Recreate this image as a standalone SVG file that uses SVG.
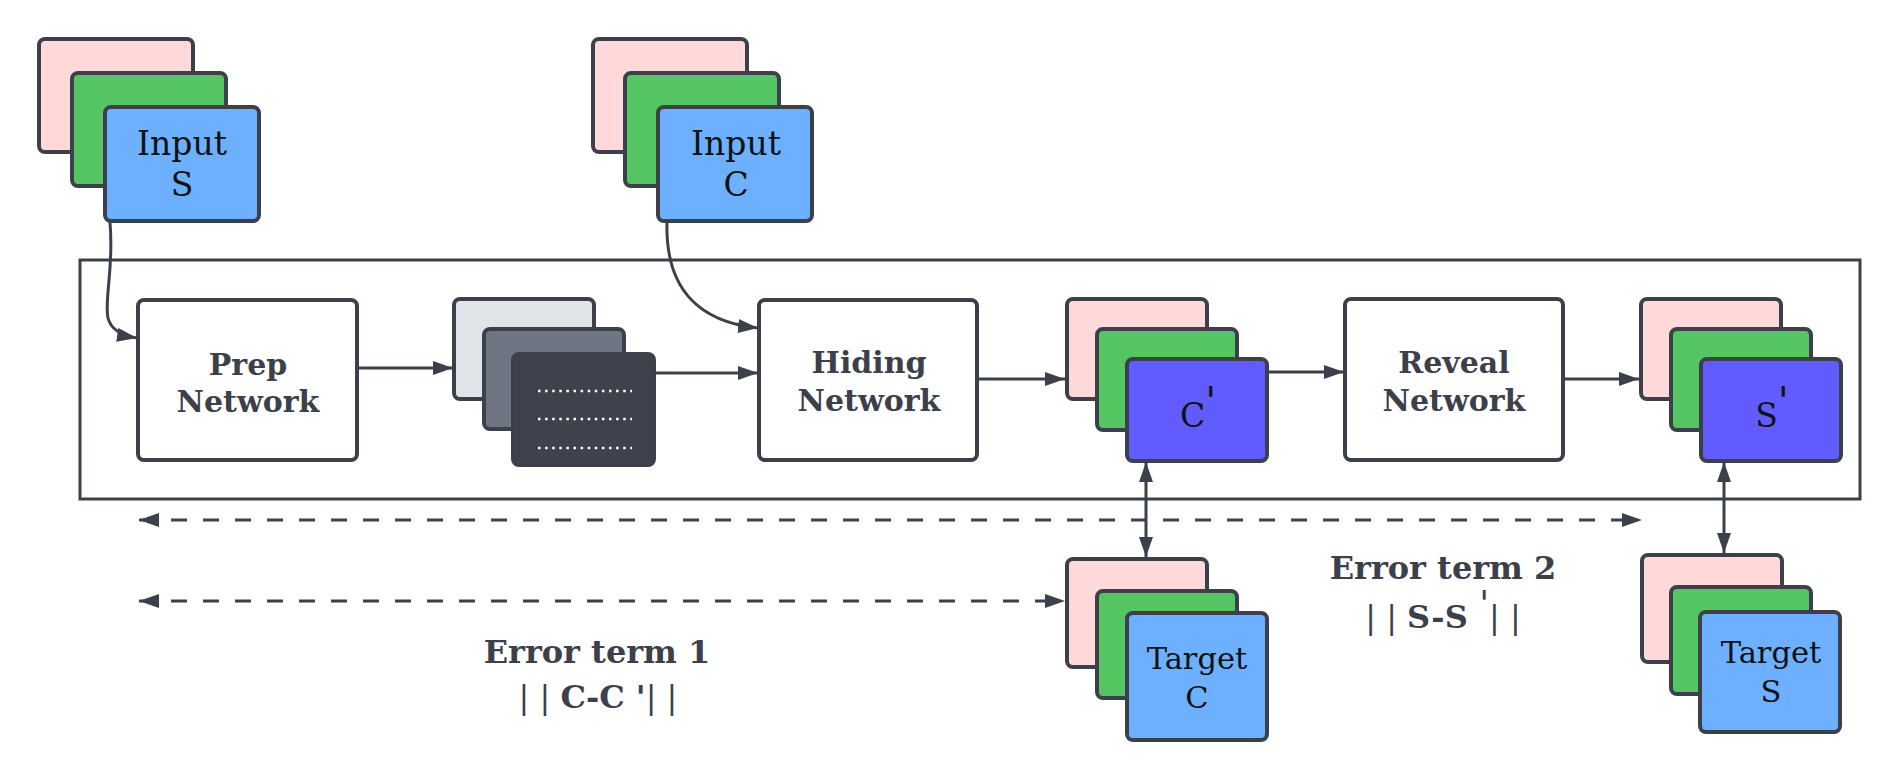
<svg xmlns="http://www.w3.org/2000/svg" width="1900" height="780" viewBox="0 0 1900 780">
<style>
.pk{fill:#ffd8da;stroke:#3b404b;stroke-width:4}
.gr{fill:#55c462;stroke:#3b404b;stroke-width:4}
.bl{fill:#6cb0ff;stroke:#3b404b;stroke-width:4}
.pu{fill:#605cff;stroke:#3b404b;stroke-width:4}
.g1{fill:#e0e3e8;stroke:#3b404b;stroke-width:4}
.g2{fill:#6f7582;stroke:#3b404b;stroke-width:4}
.g3{fill:#3d424d;stroke:#3b404b;stroke-width:4}
.net{fill:#ffffff;stroke:#3b404b;stroke-width:4}
.lbl{font-family:"DejaVu Serif",serif;font-size:33px;fill:#111111;text-anchor:middle}
.tlbl{font-family:"DejaVu Serif",serif;font-size:30.5px;fill:#111111;text-anchor:middle}
.nlbl{font-family:"DejaVu Serif",serif;font-size:30px;font-weight:bold;fill:#3b404b;text-anchor:middle}
.elbl{font-family:"DejaVu Serif",serif;font-size:32px;font-weight:bold;fill:#3b404b;text-anchor:middle}
.bar{font-weight:normal}
.con{fill:none;stroke:#3b404b;stroke-width:3}
.dash{stroke-dasharray:16 16}
.dots{stroke:#ffffff;stroke-width:2.5;stroke-dasharray:2.5 4.6;fill:none}
</style>
<defs>
<marker id="ah" viewBox="0 0 20 14" refX="20" refY="7" markerWidth="20" markerHeight="14" markerUnits="userSpaceOnUse" orient="auto-start-reverse">
<path d="M0,0 L20,7 L0,14 z" fill="#3b404b"/>
</marker>
</defs>

<rect id="container" x="80" y="260" width="1780" height="239" fill="none" stroke="#3b404b" stroke-width="3"/>

<g id="input-s">
<rect class="pk" x="39" y="39" width="154" height="113" rx="6"/>
<rect class="gr" x="72" y="73" width="154" height="113" rx="6"/>
<rect class="bl" x="105" y="107" width="154" height="114" rx="6"/>
<text class="lbl" x="182" y="155">Input</text>
<text class="lbl" x="182" y="196">S</text>
</g>

<g id="input-c">
<rect class="pk" x="593" y="39" width="154" height="113" rx="6"/>
<rect class="gr" x="625" y="73" width="154" height="113" rx="6"/>
<rect class="bl" x="658" y="107" width="154" height="114" rx="6"/>
<text class="lbl" x="736" y="155">Input</text>
<text class="lbl" x="736" y="196">C</text>
</g>

<g id="prep-network">
<rect class="net" x="138" y="300" width="219" height="160" rx="6"/>
<text class="nlbl" x="248" y="375">Prep</text>
<text class="nlbl" x="248" y="412">Network</text>
</g>

<g id="prep-output">
<rect class="g1" x="454" y="299" width="140" height="100" rx="6"/>
<rect class="g2" x="484" y="329" width="140" height="100" rx="6"/>
<rect class="g3" x="513" y="354" width="141" height="111" rx="6"/>
<line class="dots" x1="538" y1="391" x2="632" y2="391"/>
<line class="dots" x1="538" y1="419" x2="632" y2="419"/>
<line class="dots" x1="538" y1="448" x2="632" y2="448"/>
</g>

<g id="hiding-network">
<rect class="net" x="759" y="300" width="218" height="160" rx="6"/>
<text class="nlbl" x="869" y="373">Hiding</text>
<text class="nlbl" x="869" y="411">Network</text>
</g>

<g id="container-c">
<rect class="pk" x="1067" y="299" width="140" height="100" rx="6"/>
<rect class="gr" x="1097" y="329" width="140" height="101" rx="6"/>
<rect class="pu" x="1127" y="359" width="140" height="102" rx="6"/>
<text class="lbl" x="1198" y="427">C<tspan font-size="40" dy="-12">'</tspan></text>
</g>

<g id="reveal-network">
<rect class="net" x="1345" y="299" width="218" height="161" rx="6"/>
<text class="nlbl" x="1454" y="373">Reveal</text>
<text class="nlbl" x="1454" y="411">Network</text>
</g>

<g id="revealed-s">
<rect class="pk" x="1641" y="299" width="140" height="100" rx="6"/>
<rect class="gr" x="1671" y="329" width="140" height="101" rx="6"/>
<rect class="pu" x="1701" y="359" width="140" height="102" rx="6"/>
<text class="lbl" x="1772" y="427">S<tspan font-size="40" dy="-12">'</tspan></text>
</g>

<g id="target-c">
<rect class="pk" x="1067" y="559" width="140" height="108" rx="6"/>
<rect class="gr" x="1097" y="591" width="140" height="107" rx="6"/>
<rect class="bl" x="1127" y="613" width="140" height="127" rx="6"/>
<text class="tlbl" x="1197" y="669">Target</text>
<text class="tlbl" x="1197" y="708">C</text>
</g>

<g id="target-s">
<rect class="pk" x="1642" y="555" width="140" height="107" rx="6"/>
<rect class="gr" x="1671" y="587" width="140" height="107" rx="6"/>
<rect class="bl" x="1700" y="612" width="140" height="120" rx="6"/>
<text class="tlbl" x="1771" y="663">Target</text>
<text class="tlbl" x="1771" y="702">S</text>
</g>

<g id="error-term-1">
<text class="elbl" x="597" y="663">Error term 1</text>
<text class="elbl" x="598" y="708"><tspan class="bar">| | </tspan>C-C '<tspan class="bar">| |</tspan></text>
</g>

<g id="error-term-2">
<text class="elbl" x="1443" y="579">Error term 2</text>
<text class="elbl" x="1443" y="628"><tspan class="bar">| | </tspan>S-S<tspan class="bar" font-size="36" dy="-12"> '</tspan><tspan dy="12" class="bar">| |</tspan></text>
</g>

<g id="connectors">
<path class="con" d="M110,222 C114,270 104,300 108,318 Q112,334 137,338" marker-end="url(#ah)"/>
<path class="con" d="M667,222 C665,290 700,322 758,328" marker-end="url(#ah)"/>
<line class="con" x1="357" y1="368" x2="453" y2="368" marker-end="url(#ah)"/>
<line class="con" x1="654" y1="373" x2="758" y2="373" marker-end="url(#ah)"/>
<line class="con" x1="977" y1="379" x2="1065" y2="379" marker-end="url(#ah)"/>
<line class="con" x1="1267" y1="372" x2="1344" y2="372" marker-end="url(#ah)"/>
<line class="con" x1="1563" y1="379" x2="1639" y2="379" marker-end="url(#ah)"/>
<line class="con" x1="1146" y1="462" x2="1146" y2="557" marker-start="url(#ah)" marker-end="url(#ah)"/>
<line class="con" x1="1724" y1="462" x2="1724" y2="553" marker-start="url(#ah)" marker-end="url(#ah)"/>
<line class="con dash" x1="139" y1="520" x2="1642" y2="520" marker-start="url(#ah)" marker-end="url(#ah)"/>
<line class="con dash" x1="139" y1="601" x2="1065" y2="601" marker-start="url(#ah)" marker-end="url(#ah)"/>
</g>
</svg>
